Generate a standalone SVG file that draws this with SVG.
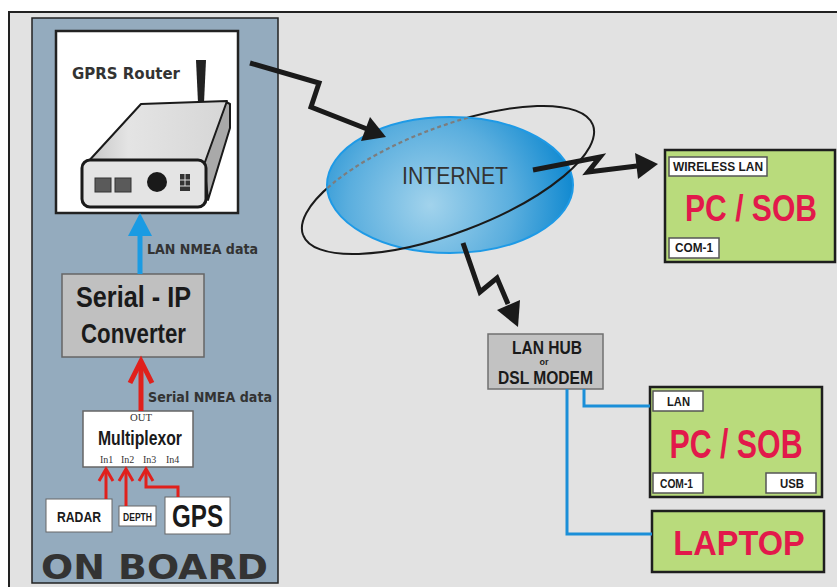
<svg xmlns="http://www.w3.org/2000/svg" width="837" height="587" viewBox="0 0 837 587">
  <defs>
    <style>
      .cond { font-family: "Liberation Sans", Arial, sans-serif; font-weight: bold; fill: #1a1a1a; }
      .wide { font-family: "DejaVu Sans", Verdana, sans-serif; font-weight: bold; fill: #333; }
      .serif { font-family: "Liberation Serif", "Times New Roman", serif; fill: #333; font-size: 10px; }
      .red { fill: #e2194b; text-anchor: middle; }
      .tag { fill: #fff; stroke: #555; stroke-width: 1.5; }
      .green { fill: #b9db7c; stroke: #1e1e1e; stroke-width: 2.5; }
      .grey { fill: #c2c2c2; stroke: #707070; stroke-width: 1.5; }
      .bolt { fill: none; stroke: #1a1a1a; stroke-width: 5; stroke-linejoin: miter; }
      .head { fill: #1a1a1a; }
      .redln { fill: none; stroke: #e0201c; stroke-linejoin: miter; }
      .blueln { fill: none; stroke: #1b8fd8; stroke-width: 3; }
    </style>
    <radialGradient id="globe" cx="430" cy="205" r="150" gradientUnits="userSpaceOnUse">
      <stop offset="0" stop-color="#a2d3ec"/>
      <stop offset="0.55" stop-color="#5aaede"/>
      <stop offset="1" stop-color="#0a86cf"/>
    </radialGradient>
    <linearGradient id="topface" x1="0" y1="0" x2="1" y2="0">
      <stop offset="0" stop-color="#c4c4c4"/>
      <stop offset="0.3" stop-color="#e4e4e4"/>
      <stop offset="1" stop-color="#d6d6d6"/>
    </linearGradient>
    <clipPath id="globeClip">
      <ellipse cx="450" cy="185" rx="123" ry="68"/>
    </clipPath>
  </defs>

  <!-- page and frame -->
  <rect x="0" y="0" width="837" height="587" fill="#fff"/>
  <rect x="9" y="12" width="840" height="590" fill="#e2e2e2" stroke="#222" stroke-width="2"/>

  <!-- on-board panel -->
  <g id="onboard">
    <rect x="32" y="18" width="246" height="565" fill="#94abbe" stroke="#222" stroke-width="1.5"/>
    <text class="wide" x="41" y="579" font-size="33" textLength="227" lengthAdjust="spacingAndGlyphs">ON BOARD</text>
  </g>

  <!-- GPRS router -->
  <g id="router">
    <rect x="56" y="31" width="182" height="182" fill="#fff" stroke="#222" stroke-width="2.5"/>
    <text class="wide" x="72" y="79" font-size="16" textLength="108" lengthAdjust="spacingAndGlyphs">GPRS Router</text>
    <!-- antenna -->
    <polygon points="196,60 206,60 204,103 198,103" fill="#222"/>
    <!-- side face -->
    <polygon points="204,162 226,102 230,104 230,128 208,200" fill="#a9a9a9" stroke="#1a1a1a" stroke-width="2" stroke-linejoin="round"/>
    <!-- top face -->
    <polygon points="86,164 141,104 227,101 205,162" fill="url(#topface)" stroke="#1a1a1a" stroke-width="2" stroke-linejoin="round"/>
    <!-- front panel -->
    <rect x="82" y="160" width="124" height="47" rx="8" fill="#e4e4e4" stroke="#1a1a1a" stroke-width="3"/>
    <rect x="95" y="178" width="16" height="14" fill="#5a5a5a" stroke="#333" stroke-width="1"/>
    <rect x="115" y="178" width="16" height="14" fill="#5a5a5a" stroke="#333" stroke-width="1"/>
    <circle cx="157" cy="182" r="10" fill="#1a1a1a"/>
    <rect x="180" y="174" width="10" height="17" fill="#333"/>
    <path d="M180 180 H190 M180 186 H190 M185 174 V186" stroke="#ddd" stroke-width="1"/>
  </g>

  <!-- serial to IP converter -->
  <g id="converter">
    <rect x="62" y="274" width="142" height="83" fill="#c0c0c0" stroke="#666" stroke-width="1.5"/>
    <text class="cond" x="76" y="307" font-size="30" textLength="115" lengthAdjust="spacingAndGlyphs">Serial - IP</text>
    <text class="cond" x="81" y="343" font-size="27" textLength="105" lengthAdjust="spacingAndGlyphs">Converter</text>
  </g>

  <!-- multiplexor -->
  <g id="multiplexor">
    <rect x="83" y="411" width="110" height="56" fill="#fff" stroke="#666" stroke-width="1.5"/>
    <text class="serif" x="130" y="421" textLength="22" lengthAdjust="spacingAndGlyphs">OUT</text>
    <text class="cond" x="98" y="445" font-size="20" textLength="84" lengthAdjust="spacingAndGlyphs">Multiplexor</text>
    <text class="serif" x="100" y="463">In1</text>
    <text class="serif" x="121" y="463">In2</text>
    <text class="serif" x="143" y="463">In3</text>
    <text class="serif" x="166" y="463">In4</text>
  </g>

  <!-- sensors -->
  <g id="radar">
    <rect x="46" y="499" width="66" height="33" fill="#fff" stroke="#666" stroke-width="1"/>
    <text class="cond" x="57" y="522" font-size="15" textLength="44" lengthAdjust="spacingAndGlyphs">RADAR</text>
  </g>
  <g id="depth">
    <rect x="119" y="506" width="37" height="20" fill="#fff" stroke="#666" stroke-width="1"/>
    <text class="cond" x="123" y="521" font-size="10" textLength="29" lengthAdjust="spacingAndGlyphs">DEPTH</text>
  </g>
  <g id="gps">
    <rect x="165" y="497" width="65" height="37" fill="#fff" stroke="#666" stroke-width="1"/>
    <text class="cond" x="172" y="527" font-size="31" textLength="51" lengthAdjust="spacingAndGlyphs">GPS</text>
  </g>

  <!-- internet cloud with orbit ring -->
  <g id="internet">
    <g transform="translate(448 180) rotate(-20.8)">
      <path d="M-155 0 A155 53 0 0 1 155 0" fill="none" stroke="#1a1a1a" stroke-width="2"/>
    </g>
    <ellipse cx="450" cy="185" rx="123" ry="68" fill="url(#globe)" stroke="#1e9ae6" stroke-width="2"/>
    <g clip-path="url(#globeClip)">
      <g transform="translate(448 180) rotate(-20.8)">
        <path d="M-155 0 A155 53 0 0 1 155 0" fill="none" stroke="#7d7d7d" stroke-width="2.2" stroke-dasharray="4 3"/>
      </g>
    </g>
    <g transform="translate(448 180) rotate(-20.8)">
      <path d="M-155 0 A155 53 0 0 0 155 0" fill="none" stroke="#1a1a1a" stroke-width="2"/>
    </g>
    <text x="402" y="184" font-family="'Liberation Sans', Arial, sans-serif" font-size="23" fill="#333" textLength="106" lengthAdjust="spacingAndGlyphs">INTERNET</text>
  </g>

  <!-- LAN hub / DSL modem -->
  <g id="hub">
    <rect x="488" y="334" width="115" height="55" class="grey"/>
    <text class="cond" x="512" y="354" font-size="18" textLength="70" lengthAdjust="spacingAndGlyphs">LAN HUB</text>
    <text class="cond" x="544" y="365" font-size="9" text-anchor="middle">or</text>
    <text class="cond" x="498" y="384" font-size="19" textLength="95" lengthAdjust="spacingAndGlyphs">DSL MODEM</text>
  </g>

  <!-- PC / SOB on wireless LAN -->
  <g id="pc-wireless">
    <rect x="665" y="150" width="170" height="112" class="green"/>
    <rect x="669" y="157" width="98" height="19" class="tag"/>
    <text class="cond" x="673" y="171" font-size="12" textLength="90" lengthAdjust="spacingAndGlyphs">WIRELESS LAN</text>
    <text class="cond red" transform="translate(751 221) scale(0.835 1)" font-size="36">PC / SOB</text>
    <rect x="669" y="238" width="50" height="20" class="tag"/>
    <text class="cond" x="675" y="252" font-size="12" textLength="38" lengthAdjust="spacingAndGlyphs">COM-1</text>
  </g>

  <!-- PC / SOB on LAN -->
  <g id="pc-lan">
    <rect x="650" y="387" width="172" height="110" class="green"/>
    <rect x="653" y="391" width="50" height="20" class="tag"/>
    <text class="cond" x="667" y="406" font-size="12" textLength="23" lengthAdjust="spacingAndGlyphs">LAN</text>
    <text class="cond red" transform="translate(736 458) scale(0.74 1)" font-size="41">PC / SOB</text>
    <rect x="653" y="473" width="50" height="20" class="tag"/>
    <text class="cond" x="660" y="488" font-size="12" textLength="33" lengthAdjust="spacingAndGlyphs">COM-1</text>
    <rect x="766" y="473" width="50" height="20" class="tag"/>
    <text class="cond" x="780" y="488" font-size="12" textLength="24" lengthAdjust="spacingAndGlyphs">USB</text>
  </g>

  <!-- laptop -->
  <g id="laptop">
    <rect x="652" y="511" width="172" height="61" class="green"/>
    <text class="cond red" transform="translate(739 555) scale(0.93 1)" font-size="35">LAPTOP</text>
  </g>

  <!-- connectors -->
  <g id="connectors">
    <!-- LAN NMEA link -->
    <line x1="140" y1="274" x2="140" y2="232" stroke="#1b9be3" stroke-width="5"/>
    <polygon points="140,213 128,236 152,236" fill="#1b9be3"/>
    <text class="wide" x="147" y="254" font-size="14" textLength="111" lengthAdjust="spacingAndGlyphs">LAN NMEA data</text>

    <!-- serial NMEA link -->
    <line x1="141" y1="411" x2="141" y2="363" class="redln" stroke-width="5"/>
    <polyline points="130,383 141,361 152,383" class="redln" stroke-width="5"/>
    <text class="wide" x="148" y="402" font-size="14" textLength="124" lengthAdjust="spacingAndGlyphs">Serial NMEA data</text>

    <!-- sensor inputs -->
    <polyline points="106,499 106,470" class="redln" stroke-width="3"/>
    <polyline points="99,481 106,469 113,481" class="redln" stroke-width="3"/>
    <polyline points="126,506 126,470" class="redln" stroke-width="3"/>
    <polyline points="119,481 126,469 133,481" class="redln" stroke-width="3"/>
    <polyline points="178,497 178,487 146,487 146,470" class="redln" stroke-width="3"/>
    <polyline points="139,481 146,469 153,481" class="redln" stroke-width="3"/>

    <!-- wireless links -->
    <polyline points="250,63 319,83 311,107 367,129" class="bolt"/>
    <polygon points="386,137 361,141 370,117" class="head"/>
    <polyline points="533,170 600,157 588,172 637,166" class="bolt"/>
    <polygon points="658,164 638,179 635,153" class="head"/>
    <polyline points="463,243 480,292 497,278 508,304" class="bolt"/>
    <polygon points="518,327 497,310 520,300" class="head"/>

    <!-- wired LAN -->
    <polyline points="584,389 584,406 650,406" class="blueln"/>
    <polyline points="567,389 567,534 652,534" class="blueln"/>
  </g>
</svg>
